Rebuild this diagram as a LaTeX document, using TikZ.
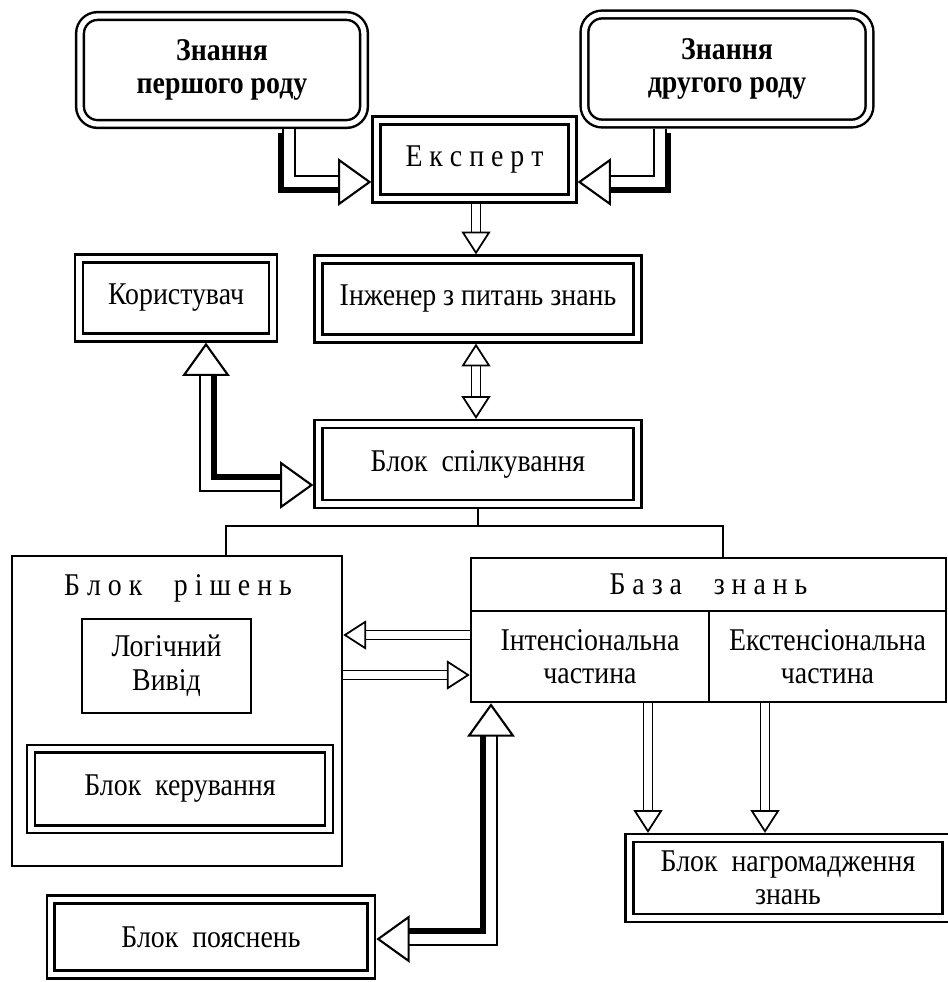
\documentclass[tikz,border=0pt]{standalone}
\usepackage{fontspec}
\setmainfont{Liberation Serif}[FakeStretch=0.88]
\usetikzlibrary{arrows.meta}
\tikzset
{
	dblbox/.style = {draw=black, double=white, line width=1.4pt, double distance=3pt, outer sep=2.9pt, inner sep=0pt, align=center, font=\fontsize{18}{18.5}\selectfont},
	roundbox/.style = {dblbox, rounded corners=10pt, font=\fontsize{18}{18.5}\selectfont\bfseries},
	plainbox/.style = {draw=black, line width=1.4pt, outer sep=0.7pt, inner sep=0pt, align=center, font=\fontsize{18}{18.5}\selectfont},
	boxtitle/.style = {inner sep=0pt, font=\fontsize{18}{18.5}\selectfont},
	link/.style = {draw=black, line width=1.1pt},
	bighead/.tip = {Triangle[color=black, fill=white, length=19pt, width=27pt, line width=1.2pt]},
	smallhead/.tip = {Triangle[color=black, fill=white, length=13pt, width=16.5pt, line width=1pt]},
	bigarrow/.style = {draw=white, line width=0.4pt, -bighead, preaction={draw=black, double=white, line width=1.2pt, double distance=6pt, arrows=-, shorten >=17pt}},
	bigboth/.style = {draw=white, line width=0.4pt, bighead-bighead, preaction={draw=black, double=white, line width=1.2pt, double distance=6pt, arrows=-, shorten <=17pt, shorten >=17pt}},
	smallarrow/.style = {draw=white, line width=0.4pt, -smallhead, preaction={draw=black, double=white, line width=1pt, double distance=4.2pt, arrows=-, shorten >=11.5pt}},
	smallboth/.style = {draw=white, line width=0.4pt, smallhead-smallhead, preaction={draw=black, double=white, line width=1pt, double distance=4.2pt, arrows=-, shorten <=11.5pt, shorten >=11.5pt}},
	thickside/.style = {preaction={draw=black, line width=8.4pt, arrows=-, shorten >=17pt, transform canvas={shift={#1}}}},
	thickboth/.style = {preaction={draw=black, line width=8.4pt, arrows=-, shorten <=17pt, shorten >=17pt, transform canvas={shift={#1}}}}
}

\begin{document}
\begin{tikzpicture}[x=0.2mm, y=-0.2mm]
\useasboundingbox (0,0) rectangle (948,982);

\node[roundbox, minimum width=56.8mm, minimum height=21.6mm] (first) at (222,70) {Знання\\першого роду};
\node[roundbox, minimum width=57mm, minimum height=21.8mm] (second) at (727,69) {Знання\\другого роду};
\node[dblbox, minimum width=39.2mm, minimum height=15.6mm] (expert) at (474.5,159.5) {Е к с п е р т};
\node[dblbox, minimum width=38.8mm, minimum height=15.8mm] (user) at (176,298) {Користувач};
\node[dblbox, minimum width=63.8mm, minimum height=15.8mm] (engineer) at (478,299) {Інженер з питань знань};
\node[dblbox, minimum width=63.8mm, minimum height=16mm] (dialog) at (478,464) {Блок~~спілкування};

\node[plainbox, minimum width=66mm, minimum height=62mm] (solver) at (177,711) {};
\node[boxtitle] (solvertitle) at (178,588) {Б л о к\quad р і ш е н ь};
\node[plainbox, minimum width=33.8mm, minimum height=18.8mm] (inference) at (166.5,666) {Логічний\\[1pt]Вивід};
\node[dblbox, minimum width=59.6mm, minimum height=16.1mm] (control) at (180,789) {Блок~~керування};
\node[dblbox, minimum width=64.1mm, minimum height=15mm] (explain) at (211,937) {Блок~~пояснень};

\node[plainbox, minimum width=95mm, minimum height=10.6mm] (base) at (708.5,584.5) {Б а з а\quad з н а н ь};
\node[plainbox, minimum width=47.6mm, minimum height=18.2mm] (intens) at (590,656.5) {Інтенсіональна\\частина};
\node[plainbox, minimum width=47.4mm, minimum height=18.2mm] (extens) at (827.5,656.5) {Екстенсіональна\\частина};
\node[dblbox, minimum width=63.4mm, minimum height=16mm] (gather) at (788,878) {Блок~~нагромадження\\знань};

\coordinate (c1) at (289,182);
\coordinate (c2) at (660,182);
\coordinate (c3) at (476,230);
\coordinate (c5) at (206,485);
\coordinate (c6) at (400,635);
\coordinate (c7) at (400,675);
\coordinate (c8) at (491,939);
\coordinate (c9) at (648,770);
\coordinate (c10) at (765,770);
\coordinate (fl) at (226,526);
\coordinate (fr) at (723,526);

\draw[thickside={(-4,4)}, bigarrow] (first.south -| c1) |- (expert.west |- c1);
\draw[thickside={(4,4)}, bigarrow] (second.south -| c2) |- (expert.east |- c2);
\draw[smallarrow] (expert.south -| c3) -- (engineer.north -| c3);
\draw[smallboth] (engineer.south -| c3) -- (dialog.north -| c3);
\draw[thickboth={(4,-4)}, bigboth] (user.south -| c5) |- (dialog.west |- c5);

\draw[link] (dialog.south) -- (dialog.south |- fl);
\draw[link] (solver.north -| fl) -- (fl) -- (fr) -- (base.north -| fr);

\draw[smallarrow] (intens.west |- c6) -- (solver.east |- c6);
\draw[smallarrow] (solver.east |- c7) -- (intens.west |- c7);
\draw[thickboth={(-4,-4)}, bigboth] (intens.south -| c8) |- (explain.east |- c8);
\draw[smallarrow] (intens.south -| c9) -- (gather.north -| c9);
\draw[smallarrow] (extens.south -| c10) -- (gather.north -| c10);
\end{tikzpicture}
\end{document}
